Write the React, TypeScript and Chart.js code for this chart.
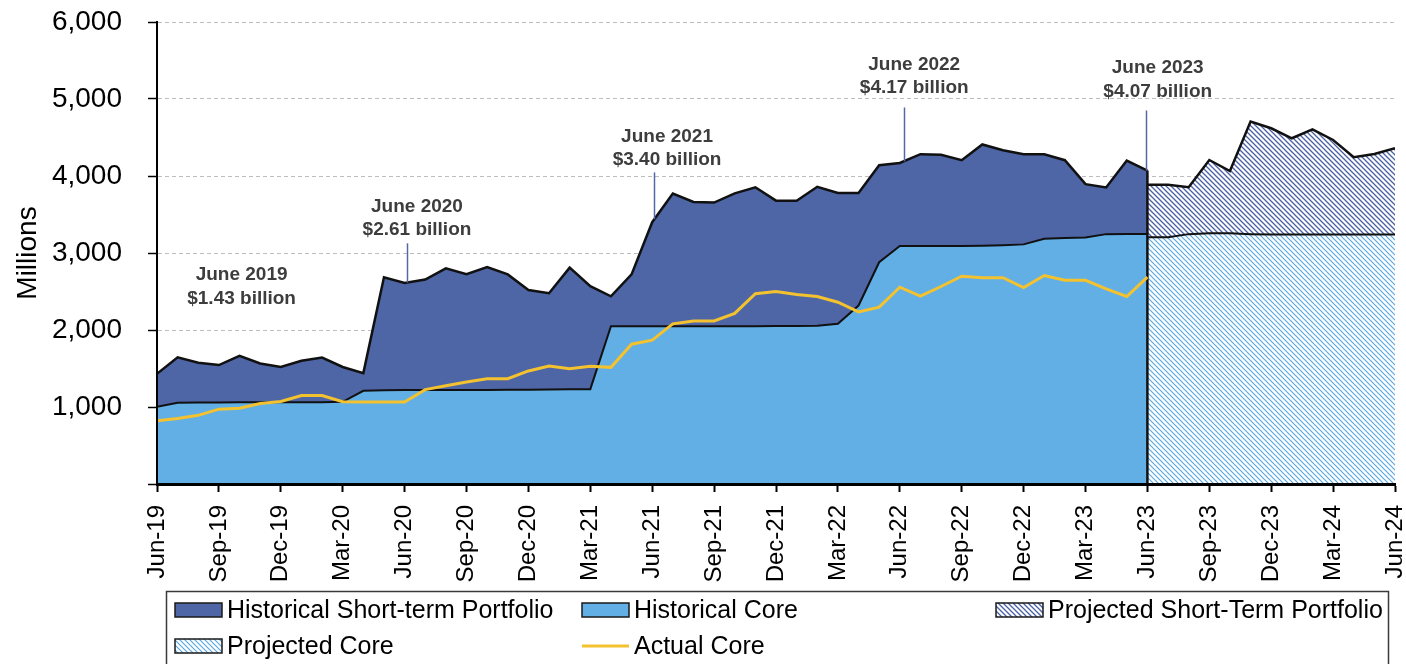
import React, { useEffect, useRef } from 'react';
import { Chart, registerables } from 'chart.js';

Chart.register(...registerables);

// ---------------- data ----------------
const xTickLabels = [
  'Jun-19', 'Sep-19', 'Dec-19', 'Mar-20', 'Jun-20', 'Sep-20', 'Dec-20', 'Mar-21',
  'Jun-21', 'Sep-21', 'Dec-21', 'Mar-22', 'Jun-22', 'Sep-22', 'Dec-22', 'Mar-23',
  'Jun-23', 'Sep-23', 'Dec-23', 'Mar-24', 'Jun-24',
];
const monthsPerTick = 3;
const totalMonths = 60;
const projectionStart = 48; // Jun-23

// Historical short-term portfolio (top of stack = total), Jun-19 .. Jun-23
const historicalTotal = [
  1430, 1645, 1575, 1545, 1665, 1565, 1520, 1600, 1643, 1520, 1440, 2685, 2610,
  2655, 2800, 2725, 2818, 2722, 2520, 2478, 2810, 2570, 2438, 2722, 3400,
  3772, 3662, 3655, 3775, 3853, 3680, 3679, 3860, 3779, 3779, 4141, 4170,
  4283, 4275, 4205, 4410, 4335, 4283, 4283, 4205, 3894, 3851, 4200, 4070,
];
// Historical core, Jun-19 .. Jun-23
const historicalCore = [
  1004, 1056, 1060, 1060, 1062, 1062, 1062, 1062, 1062, 1068, 1210, 1218, 1220,
  1220, 1220, 1222, 1222, 1224, 1225, 1226, 1230, 1232, 2048, 2050, 2050,
  2050, 2050, 2050, 2050, 2050, 2052, 2052, 2054, 2082, 2318, 2880, 3090,
  3090, 3090, 3092, 3095, 3102, 3112, 3185, 3195, 3202, 3245, 3247, 3248,
];
// Actual core, Jun-19 .. Jun-23
const actualCore = [
  820, 850, 892, 972, 985, 1045, 1072, 1150, 1150, 1068, 1066, 1066, 1066,
  1226, 1275, 1325, 1368, 1368, 1468, 1533, 1497, 1530, 1515, 1815, 1868,
  2080, 2118, 2118, 2215, 2472, 2500, 2462, 2435, 2361, 2235, 2297, 2556,
  2440, 2565, 2698, 2680, 2680, 2550, 2707, 2645, 2645, 2535, 2435, 2686,
];
// Projected short-term portfolio total, Jun-23 .. Jun-24
const projectedTotal = [3885, 3885, 3855, 4208, 4065, 4706, 4620, 4490, 4606, 4468, 4243, 4286, 4360];
// Projected core, Jun-23 .. Jun-24
const projectedCore = [3205, 3205, 3245, 3255, 3255, 3245, 3240, 3240, 3240, 3240, 3240, 3240, 3240];

const seriesNames = [
  'Historical Short-term Portfolio',
  'Historical Core',
  'Projected Short-Term Portfolio',
  'Projected Core',
  'Actual Core',
];

// callouts: month index of text centre, values of the two text lines, leader line
const callouts = [
  { lines: ['June 2019', '$1.43 billion'], textX: 4.1, textY: [2711, 2412], leader: null },
  { lines: ['June 2020', '$2.61 billion'], textX: 12.6, textY: [3606, 3307], leader: { x: 12.1, from: 3126, to: 2615 } },
  { lines: ['June 2021', '$3.40 billion'], textX: 24.72, textY: [4514, 4215], leader: { x: 24.1, from: 4047, to: 3440 } },
  { lines: ['June 2022', '$4.17 billion'], textX: 36.7, textY: [5447, 5149], leader: { x: 36.2, from: 4890, to: 4190 } },
  { lines: ['June 2023', '$4.07 billion'], textX: 48.5, textY: [5409, 5097], leader: { x: 47.95, from: 4851, to: 4070 } },
];

// ---------------- styling ----------------
const FONT = '"Liberation Sans", Arial, Helvetica, sans-serif';
const DARK = '#4E66A6';
const LIGHT = '#62AFE6';
const YELLOW = '#F3C22E';

function makeHatch(color: string, spacing: number, width: number) {
  const c = document.createElement('canvas');
  c.width = spacing;
  c.height = spacing;
  const g = c.getContext('2d') as CanvasRenderingContext2D;
  g.fillStyle = '#ffffff';
  g.fillRect(0, 0, spacing, spacing);
  g.strokeStyle = color;
  g.lineWidth = width;
  g.beginPath();
  g.moveTo(-1, -1);
  g.lineTo(spacing + 1, spacing + 1);
  g.moveTo(-1, spacing - 1);
  g.lineTo(1, spacing + 1);
  g.moveTo(spacing - 1, -1);
  g.lineTo(spacing + 1, 1);
  g.stroke();
  return g.createPattern(c, 'repeat') as CanvasPattern;
}

const toPoints = (vals: number[], start: number) => vals.map((v, k) => ({ x: start + k, y: v }));

const legendLayout = [
  { ds: 0, col: 0, row: 0 },
  { ds: 1, col: 1, row: 0 },
  { ds: 2, col: 2, row: 0 },
  { ds: 3, col: 0, row: 1 },
  { ds: 4, col: 1, row: 1 },
];
const legendColX = [175, 582, 996];
const legendRowY = [610, 646];

const calloutPlugin = {
  id: 'callouts',
  afterDatasetsDraw(chart: any) {
    const { ctx, scales } = chart;
    const xs = scales.x;
    const ys = scales.y;
    ctx.save();
    for (const c of callouts) {
      if (c.leader) {
        const px = Math.round(xs.getPixelForValue(c.leader.x)) + 0.5;
        ctx.strokeStyle = '#5468A8';
        ctx.lineWidth = 1.5;
        ctx.beginPath();
        ctx.moveTo(px, ys.getPixelForValue(c.leader.from));
        ctx.lineTo(px, ys.getPixelForValue(c.leader.to));
        ctx.stroke();
      }
      ctx.font = `bold 19px ${FONT}`;
      ctx.fillStyle = '#3d3d3d';
      ctx.textAlign = 'center';
      ctx.textBaseline = 'middle';
      c.lines.forEach((t, k) => {
        ctx.fillText(t, xs.getPixelForValue(c.textX), ys.getPixelForValue(c.textY[k]));
      });
    }
    ctx.restore();
  },
};

const boxLegendPlugin = {
  id: 'boxLegend',
  afterDraw(chart: any) {
    const { ctx } = chart;
    const datasets = chart.data.datasets;
    ctx.save();
    ctx.strokeStyle = '#3a3a3a';
    ctx.lineWidth = 1.5;
    ctx.strokeRect(166.5, 591.5, 1222, 80);
    ctx.font = `25px ${FONT}`;
    ctx.textAlign = 'left';
    ctx.textBaseline = 'middle';
    for (const item of legendLayout) {
      const ds = datasets[item.ds];
      const x = legendColX[item.col];
      const y = legendRowY[item.row];
      if (ds.fill === false) {
        ctx.strokeStyle = ds.borderColor;
        ctx.lineWidth = 3;
        ctx.beginPath();
        ctx.moveTo(x, y);
        ctx.lineTo(x + 47, y);
        ctx.stroke();
      } else {
        ctx.fillStyle = ds.backgroundColor;
        ctx.fillRect(x, y - 7, 47, 14);
        ctx.strokeStyle = '#1a1a1a';
        ctx.lineWidth = 1.5;
        ctx.strokeRect(x, y - 7, 47, 14);
      }
      ctx.fillStyle = '#000';
      ctx.fillText(seriesNames[item.ds], x + 52, y + 1);
    }
    ctx.restore();
  },
};

export default function App() {
  const canvasRef = useRef<HTMLCanvasElement | null>(null);

  useEffect(() => {
    const canvas = canvasRef.current;
    if (!canvas) return;
    Chart.defaults.font.family = FONT;
    const hatchDark = makeHatch('#4A60A6', 5, 1.3);
    const hatchLight = makeHatch('#5BA9E2', 5, 1.2);

    const chart = new Chart(canvas, {
      type: 'line',
      data: {
        datasets: [
          {
            label: seriesNames[0],
            data: toPoints(historicalTotal, 0),
            borderColor: '#111',
            borderWidth: 2.5,
            backgroundColor: DARK,
            fill: '+1',
            pointRadius: 0,
            tension: 0,
            order: 2,
          },
          {
            label: seriesNames[1],
            data: toPoints(historicalCore, 0),
            borderColor: '#111',
            borderWidth: 2,
            backgroundColor: LIGHT,
            fill: 'origin',
            pointRadius: 0,
            tension: 0,
            order: 3,
          },
          {
            label: seriesNames[2],
            data: toPoints(projectedTotal, projectionStart),
            borderColor: '#111',
            borderWidth: 2.5,
            backgroundColor: hatchDark,
            fill: '+1',
            pointRadius: 0,
            tension: 0,
            order: 2,
          },
          {
            label: seriesNames[3],
            data: toPoints(projectedCore, projectionStart),
            borderColor: '#111',
            borderWidth: 2,
            backgroundColor: hatchLight,
            fill: 'origin',
            pointRadius: 0,
            tension: 0,
            order: 3,
          },
          {
            label: seriesNames[4],
            data: toPoints(actualCore, 0),
            borderColor: YELLOW,
            borderWidth: 3,
            backgroundColor: YELLOW,
            fill: false,
            pointRadius: 0,
            tension: 0,
            order: 0,
          },
          {
            label: 'divider',
            data: [
              { x: projectionStart, y: 0 },
              { x: projectionStart, y: historicalTotal[historicalTotal.length - 1] },
            ],
            borderColor: '#111',
            borderWidth: 2.5,
            fill: false,
            pointRadius: 0,
            order: 1,
          },
        ],
      },
      options: {
        responsive: false,
        animation: false,
        layout: { padding: { left: 0, right: 11, top: 22, bottom: 80 } },
        plugins: {
          legend: { display: false },
          tooltip: { enabled: false },
          filler: { drawTime: 'beforeDatasetsDraw' },
        },
        scales: {
          x: {
            type: 'linear',
            min: 0,
            max: totalMonths,
            afterFit: (s: any) => {
              s.height = 100;
              s.paddingLeft = 0;
              s.paddingRight = 0;
            },
            ticks: {
              stepSize: monthsPerTick,
              autoSkip: false,
              minRotation: 90,
              maxRotation: 90,
              padding: 13,
              color: '#000',
              font: { size: 24, family: FONT },
              callback: (v: any) => xTickLabels[Math.round(Number(v) / monthsPerTick)] ?? '',
            },
            grid: {
              drawOnChartArea: false,
              drawTicks: true,
              tickLength: 8,
              tickColor: '#000',
              tickWidth: 2,
            },
            border: { display: true, color: '#000', width: 3, z: 1 },
          },
          y: {
            min: 0,
            max: 6000,
            afterFit: (s: any) => {
              s.width = 157;
              s.paddingTop = 0;
              s.paddingBottom = 0;
            },
            ticks: {
              stepSize: 1000,
              padding: 26,
              color: '#000',
              font: { size: 28, family: FONT },
              callback: (v: any) => (Number(v) === 0 ? '' : Number(v).toLocaleString('en-US')),
            },
            grid: {
              color: '#BDBDBD',
              lineWidth: 1,
              drawTicks: true,
              tickLength: 9,
              tickColor: '#000',
              tickWidth: 1.5,
              tickBorderDash: [],
            },
            border: { display: true, color: '#000', width: 2, dash: [4, 3], z: 1 },
            title: {
              display: true,
              text: 'Millions',
              color: '#000',
              font: { size: 28, family: FONT },
              padding: { top: 11, bottom: 0 },
            },
          },
        },
      },
      plugins: [calloutPlugin, boxLegendPlugin],
    } as any);

    return () => chart.destroy();
  }, []);

  return (
    <div style={{ position: 'absolute', left: 0, top: 0, width: 1406, height: 664, background: '#fff' }}>
      <canvas ref={canvasRef} width={1406} height={664} style={{ display: 'block' }} />
    </div>
  );
}
